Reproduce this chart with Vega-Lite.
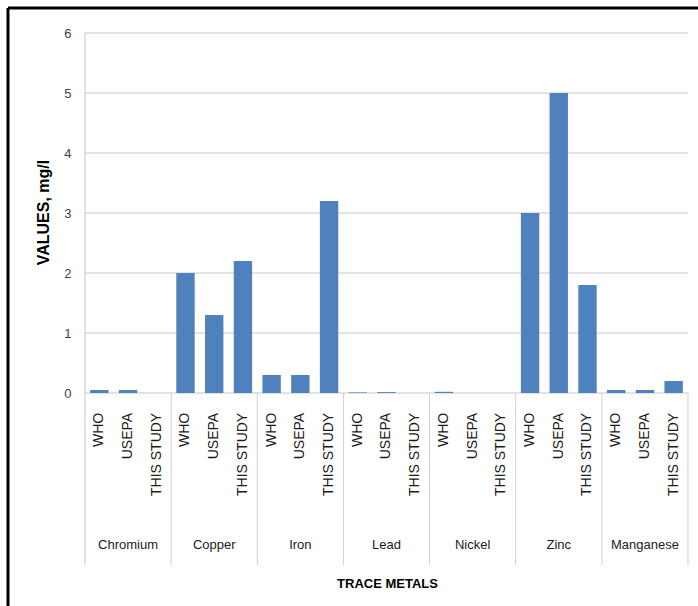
{
  "$schema": "https://vega.github.io/schema/vega-lite/v6.json",
  "width": 690,
  "height": 598,
  "autosize": {"type": "none"},
  "padding": {"left": 8, "top": 8, "right": 0, "bottom": 0},
  "background": "#ffffff",
  "config": {
    "font": "Liberation Sans",
    "view": {"stroke": null}
  },
  "datasets": {
    "metals": [
      {"metal": "Chromium", "source": "WHO", "value": 0.05},
      {"metal": "Chromium", "source": "USEPA", "value": 0.05},
      {"metal": "Chromium", "source": "THIS STUDY", "value": 0},
      {"metal": "Copper", "source": "WHO", "value": 2.0},
      {"metal": "Copper", "source": "USEPA", "value": 1.3},
      {"metal": "Copper", "source": "THIS STUDY", "value": 2.2},
      {"metal": "Iron", "source": "WHO", "value": 0.3},
      {"metal": "Iron", "source": "USEPA", "value": 0.3},
      {"metal": "Iron", "source": "THIS STUDY", "value": 3.2},
      {"metal": "Lead", "source": "WHO", "value": 0.01},
      {"metal": "Lead", "source": "USEPA", "value": 0.015},
      {"metal": "Lead", "source": "THIS STUDY", "value": 0},
      {"metal": "Nickel", "source": "WHO", "value": 0.02},
      {"metal": "Nickel", "source": "USEPA", "value": 0},
      {"metal": "Nickel", "source": "THIS STUDY", "value": 0},
      {"metal": "Zinc", "source": "WHO", "value": 3.0},
      {"metal": "Zinc", "source": "USEPA", "value": 5.0},
      {"metal": "Zinc", "source": "THIS STUDY", "value": 1.8},
      {"metal": "Manganese", "source": "WHO", "value": 0.05},
      {"metal": "Manganese", "source": "USEPA", "value": 0.05},
      {"metal": "Manganese", "source": "THIS STUDY", "value": 0.2}
    ],
    "grid": [{"v": 0}, {"v": 1}, {"v": 2}, {"v": 3}, {"v": 4}, {"v": 5}, {"v": 6}]
  },
  "data": {"name": "metals"},
  "resolve": {"scale": {"x": "independent"}, "axis": {"x": "independent"}},
  "layer": [
    {
      "layer": [
        {
          "data": {"name": "grid"},
          "mark": {"type": "rule", "color": "#c6c6c6", "strokeWidth": 1},
          "encoding": {
            "y": {"field": "v", "type": "quantitative"},
            "x": {"datum": "Chromium", "type": "nominal", "bandPosition": 0},
            "x2": {"datum": "Manganese", "bandPosition": 1}
          }
        },
        {
          "transform": [{"filter": "datum.metal === 'Chromium' && datum.source === 'WHO'"}],
          "mark": {"type": "rule", "color": "#c6c6c6", "strokeWidth": 1},
          "encoding": {
            "x": {"field": "metal", "type": "nominal", "bandPosition": 0},
            "y": {"datum": 6, "type": "quantitative"},
            "y2": {"datum": -2.87}
          }
        },
        {
          "transform": [{"filter": "datum.metal !== 'Chromium' && datum.source === 'WHO'"}],
          "mark": {"type": "rule", "color": "#d0d0d0", "strokeWidth": 1},
          "encoding": {
            "x": {"field": "metal", "type": "nominal", "bandPosition": 0},
            "y": {"datum": 0, "type": "quantitative"},
            "y2": {"datum": -2.87}
          }
        },
        {
          "transform": [{"filter": "datum.metal === 'Manganese' && datum.source === 'THIS STUDY'"}],
          "mark": {"type": "rule", "color": "#d0d0d0", "strokeWidth": 1},
          "encoding": {
            "x": {"field": "metal", "type": "nominal", "bandPosition": 1},
            "y": {"datum": 0, "type": "quantitative"},
            "y2": {"datum": -2.87}
          }
        },
        {
          "mark": {"type": "bar", "color": "#4f81bd"},
          "encoding": {
            "x": {
              "field": "metal",
              "type": "nominal",
              "sort": ["Chromium", "Copper", "Iron", "Lead", "Nickel", "Zinc", "Manganese"],
              "scale": {
                "domain": ["Chromium", "Copper", "Iron", "Lead", "Nickel", "Zinc", "Manganese"],
                "paddingInner": 0,
                "paddingOuter": 0.505,
                "align": 0.885
              },
              "axis": {
                "domain": false,
                "ticks": false,
                "labels": false,
                "grid": false,
                "offset": -39,
                "title": "TRACE METALS",
                "titleFont": "Liberation Sans",
                "titleFontSize": 13,
                "titleFontWeight": "bold",
                "titleColor": "#000000",
                "titleX": 379,
                "titleY": 16,
                "titleAlign": "center",
                "titleBaseline": "middle"
              }
            },
            "xOffset": {
              "field": "source",
              "type": "nominal",
              "sort": ["WHO", "USEPA", "THIS STUDY"],
              "scale": {"domain": ["WHO", "USEPA", "THIS STUDY"], "paddingInner": 0.36, "paddingOuter": 0.18}
            },
            "y": {
              "field": "value",
              "type": "quantitative",
              "scale": {"domain": [-3.55, 6.4167], "nice": false, "zero": false},
              "axis": {
                "values": [0, 1, 2, 3, 4, 5, 6],
                "format": "d",
                "grid": false,
                "domain": false,
                "ticks": false,
                "offset": -77,
                "labelPadding": 14,
                "labelFontSize": 13,
                "labelColor": "#404040",
                "title": "VALUES, mg/l",
                "titleFontSize": 16,
                "titleFontWeight": "bold",
                "titleColor": "#000000",
                "titleX": -42,
                "titleY": 204,
                "titleAngle": 270,
                "titleAlign": "center",
                "titleBaseline": "middle"
              }
            }
          }
        },
        {
          "mark": {"type": "text", "angle": 270, "align": "right", "baseline": "middle", "fontSize": 14, "color": "#1a1a1a"},
          "encoding": {
            "x": {"field": "metal", "type": "nominal"},
            "xOffset": {"field": "source", "type": "nominal"},
            "y": {"datum": -0.33, "type": "quantitative"},
            "text": {"field": "source"}
          }
        },
        {
          "transform": [{"filter": "datum.source === 'USEPA'"}],
          "mark": {"type": "text", "align": "center", "baseline": "middle", "fontSize": 13, "color": "#1a1a1a"},
          "encoding": {
            "x": {"field": "metal", "type": "nominal"},
            "y": {"datum": -2.53, "type": "quantitative"},
            "text": {"field": "metal"}
          }
        },
        {
          "transform": [{"filter": "datum.metal === 'Chromium' && datum.source === 'WHO'"}],
          "mark": {"type": "rule", "color": "#000000", "strokeWidth": 3},
          "encoding": {
            "y": {"datum": 6.4167, "type": "quantitative"}
          }
        }
      ]
    },
    {
      "transform": [{"filter": "datum.metal === 'Chromium' && datum.source === 'WHO'"}],
      "mark": {"type": "rule", "color": "#000000", "strokeWidth": 3},
      "encoding": {
        "x": {"datum": 0, "type": "quantitative", "scale": {"domain": [0, 1], "nice": false, "zero": false}, "axis": null}
      }
    }
  ]
}
